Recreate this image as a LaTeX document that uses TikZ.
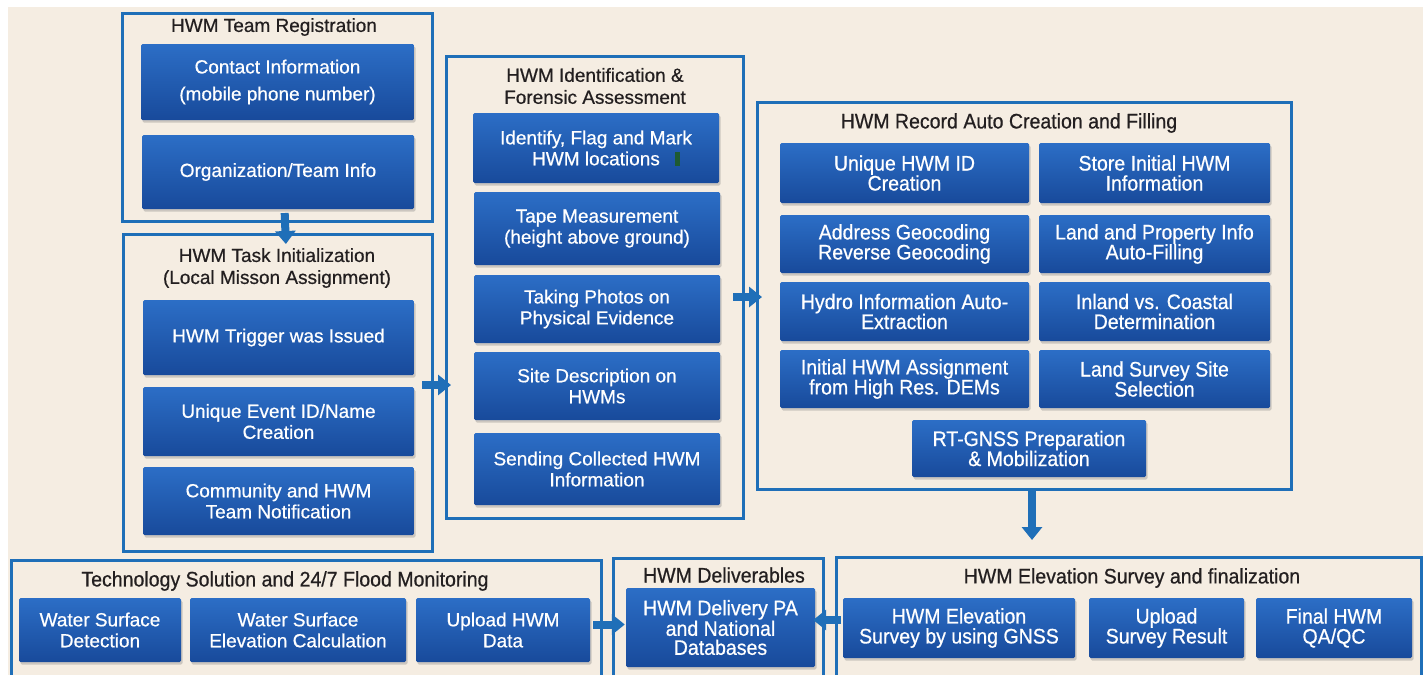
\documentclass[tikz,border=0pt]{standalone}
\usepackage{fontspec}
\setmainfont{Liberation Sans}[FakeBold=0.5]
\newfontfamily\narrowsf{Liberation Sans}[FakeStretch=0.93]
\newfontfamily\heavysf{Liberation Sans}[FakeBold=0.6]
\newfontfamily\heavynarrowsf{Liberation Sans}[FakeStretch=0.93,FakeBold=0.6]
\usetikzlibrary{arrows.meta,shadows}
\definecolor{hwmblue}{RGB}{31,111,184}
\definecolor{boxtop}{RGB}{44,110,198}
\definecolor{boxbot}{RGB}{24,74,155}
\definecolor{cream}{RGB}{245,237,226}
\definecolor{ink}{RGB}{35,31,32}
\definecolor{markgreen}{RGB}{30,90,50}
\newcommand{\regtxt}{\heavysf\fontsize{19}{21}\selectfont}
\newcommand{\cndtxt}{\heavynarrowsf\fontsize{21}{20}\selectfont}

\tikzset{
frm/.style={draw=hwmblue, line width=3pt, inner sep=0pt, outer sep=0pt},
blk/.style={rectangle, rounded corners=1.5pt, top color=boxtop, bottom color=boxbot, text=white, align=center, inner sep=2pt, drop shadow={opacity=0.35, shadow xshift=1.5pt, shadow yshift=-2.5pt}},
ttl/.style={text=ink, align=center},
flow/.style={-{Triangle[width=20pt,length=13pt]}, line width=8pt, hwmblue}
}

\begin{document}
\begin{tikzpicture}[x=1pt,y=-1pt]
\useasboundingbox (0,0) rectangle (1428,675);
\fill[white] (0,0) rectangle (1428,675);
\fill[cream] (8,7) rectangle (1423,675);

\node[frm, minimum width=310pt, minimum height=208pt] (reg) at (277,117) {};
\node[ttl, font=\regtxt] (regt) at (274,27) {HWM Team Registration};
\node[blk, font=\regtxt, minimum width=273pt, minimum height=76pt] (contact) at (277.5,82) {Contact Information\\[6pt](mobile phone number)};
\node[blk, font=\regtxt, minimum width=272pt, minimum height=74pt] (org) at (278,172) {Organization/Team Info};

\node[frm, minimum width=309pt, minimum height=317pt] (task) at (277.5,392.5) {};
\node[ttl, font=\heavysf\fontsize{19}{22}\selectfont] (taskt) at (277,268) {HWM Task Initialization\\(Local Misson Assignment)};
\node[blk, font=\regtxt, minimum width=271pt, minimum height=75pt] (trig) at (278.5,337.5) {HWM Trigger was Issued};
\node[blk, font=\regtxt, minimum width=271pt, minimum height=69pt] (evid) at (278.5,421.5) {Unique Event ID/Name\\Creation};
\node[blk, font=\regtxt, minimum width=271pt, minimum height=68pt] (comm) at (278.5,501) {Community and HWM\\Team Notification};

\node[frm, minimum width=297pt, minimum height=462pt] (iden) at (594.5,287) {};
\node[ttl, font=\heavysf\fontsize{19}{22}\selectfont] (ident) at (595,86) {HWM Identification \&\\Forensic Assessment};
\node[blk, font=\regtxt, minimum width=246pt, minimum height=70pt] (flag) at (596,148) {Identify, Flag and Mark\\HWM locations};
\fill[markgreen] (675,152) rectangle (680,166);
\node[blk, font=\regtxt, minimum width=246pt, minimum height=73pt] (tape) at (597,228.5) {Tape Measurement\\(height above ground)};
\node[blk, font=\regtxt, minimum width=246pt, minimum height=68pt] (photo) at (597,309) {Taking Photos on\\Physical Evidence};
\node[blk, font=\regtxt, minimum width=246pt, minimum height=68pt] (site) at (597,386) {Site Description on\\HWMs};
\node[blk, font=\regtxt, minimum width=246pt, minimum height=72pt] (send) at (597,469) {Sending Collected HWM\\Information};

\node[frm, minimum width=534pt, minimum height=387pt] (rec) at (1024,295.5) {};
\node[ttl, font=\cndtxt] (rect) at (1009,123) {HWM Record Auto Creation and Filling};
\node[blk, font=\cndtxt, minimum width=249pt, minimum height=60pt] (uid) at (904.5,173) {Unique HWM ID\\Creation};
\node[blk, font=\cndtxt, minimum width=231pt, minimum height=60pt] (store) at (1154.5,173) {Store Initial HWM\\Information};
\node[blk, font=\cndtxt, minimum width=249pt, minimum height=58pt] (addr) at (904.5,244) {Address Geocoding\\Reverse Geocoding};
\node[blk, font=\cndtxt, minimum width=231pt, minimum height=58pt] (land) at (1154.5,244) {Land and Property Info\\Auto-Filling};
\node[blk, font=\cndtxt, minimum width=249pt, minimum height=59pt] (hydro) at (904.5,311.5) {Hydro Information Auto-\\Extraction};
\node[blk, font=\cndtxt, minimum width=231pt, minimum height=59pt] (inland) at (1154.5,311.5) {Inland vs. Coastal\\Determination};
\node[blk, font=\cndtxt, minimum width=249pt, minimum height=58pt] (dem) at (904.5,379) {Initial HWM Assignment\\from High Res. DEMs};
\node[blk, font=\cndtxt, minimum width=231pt, minimum height=58pt] (lss) at (1154.5,379) {Land Survey Site\\Selection};
\node[blk, font=\cndtxt, minimum width=234pt, minimum height=57pt] (gnssprep) at (1029,448.5) {RT-GNSS Preparation\\\& Mobilization};

\node[frm, minimum width=590pt, minimum height=120pt] (tech) at (306,620) {};
\node[ttl, font=\cndtxt] (techt) at (285,581) {Technology Solution and 24/7 Flood Monitoring};
\node[blk, font=\regtxt, minimum width=162pt, minimum height=64pt] (wsd) at (100,630) {Water Surface\\Detection};
\node[blk, font=\regtxt, minimum width=216pt, minimum height=64pt] (wse) at (298,630) {Water Surface\\Elevation Calculation};
\node[blk, font=\regtxt, minimum width=174pt, minimum height=64pt] (upl) at (503,630) {Upload HWM\\Data};

\node[frm, minimum width=210pt, minimum height=122pt] (dlv) at (718,619) {};
\node[ttl, font=\cndtxt] (dlvt) at (724,575) {HWM Deliverables};
\node[blk, font=\heavynarrowsf\fontsize{21}{19}\selectfont, minimum width=189pt, minimum height=79pt] (dlvbox) at (720.5,627.5) {HWM Delivery PA\\and National\\Databases};

\node[frm, minimum width=585pt, minimum height=123pt] (elev) at (1128.5,618.5) {};
\node[ttl, font=\cndtxt] (elevt) at (1132,578) {HWM Elevation Survey and finalization};
\node[blk, font=\cndtxt, minimum width=232pt, minimum height=60pt] (gnss) at (959,628) {HWM Elevation\\Survey by using GNSS};
\node[blk, font=\cndtxt, minimum width=155pt, minimum height=60pt] (ups) at (1166.5,628) {Upload\\Survey Result};
\node[blk, font=\cndtxt, minimum width=156pt, minimum height=60pt] (qa) at (1334,628) {Final HWM\\QA/QC};

\draw[flow, shorten <=-8pt, shorten >=-10pt] ([xshift=8pt]reg.south) -- ([xshift=8pt]task.north);
\draw[flow, shorten <=-10pt, shorten >=-5pt] ([yshift=7.5pt]task.east) -- ([yshift=7.5pt]task.east -| iden.west);
\draw[flow, shorten <=-10pt, shorten >=-5pt] ([yshift=-10pt]iden.east) -- ([yshift=-10pt]iden.east -| rec.west);
\draw[flow, shorten <=-1pt, shorten >=17pt] ([xshift=8pt]rec.south) -- ([xshift=8pt]rec.south |- elev.north);
\draw[flow, shorten <=-8pt, shorten >=1pt] ([yshift=3pt]dlvbox.west -| tech.east) -- ([yshift=3pt]dlvbox.west);
\draw[flow, shorten <=-5pt, shorten >=-2pt] ([yshift=7.5pt]dlvbox.east -| elev.west) -- ([yshift=7.5pt]dlvbox.east);
\end{tikzpicture}
\end{document}
